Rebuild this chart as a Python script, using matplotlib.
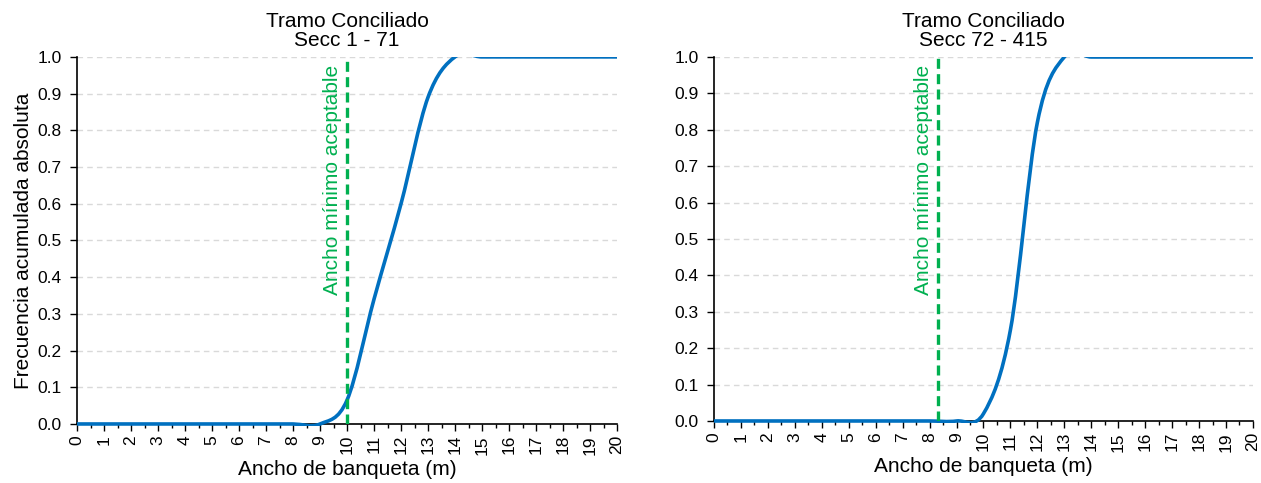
import matplotlib
matplotlib.use("Agg")
import matplotlib.pyplot as plt
from matplotlib.ticker import MultipleLocator
from matplotlib.path import Path
from matplotlib.patches import PathPatch, Rectangle

plt.rcParams['font.family'] = ['Liberation Sans', 'DejaVu Sans']

# Shared x values (Ancho de banqueta, m)
x_vals = list(range(21))

# Left panel: Secc 1 - 71
y_left = [0, 0, 0, 0, 0, 0, 0, 0, 0, 0, 0.065, 0.34, 0.60, 0.89, 1.0,
          1.0, 1.0, 1.0, 1.0, 1.0, 1.0]

# Right panel: Secc 72 - 415
y_right = [0, 0, 0, 0, 0, 0, 0, 0, 0, 0, 0.02, 0.25, 0.82, 1.0, 1.0,
           1.0, 1.0, 1.0, 1.0, 1.0, 1.0]

min_left = 10.0
min_right = 8.3

titles = ["Tramo Conciliado\nSecc 1 - 71", "Tramo Conciliado\nSecc 72 - 415"]
xlabel = "Ancho de banqueta (m)"
ylabel = "Frecuencia acumulada absoluta"
annot = "Ancho mínimo aceptable"
xtick_labels = [str(v) for v in range(21)]
ytick_vals = [i / 10 for i in range(11)]
ytick_labels = [f"{v:.1f}" for v in ytick_vals]


def smooth_path(xs, ys):
    """Excel-style smoothed line: Catmull-Rom through the points as cubic Beziers."""
    n = len(xs)
    verts = [(xs[0], ys[0])]
    codes = [Path.MOVETO]
    for i in range(n - 1):
        x0, y0 = xs[max(i - 1, 0)], ys[max(i - 1, 0)]
        x1, y1 = xs[i], ys[i]
        x2, y2 = xs[i + 1], ys[i + 1]
        x3, y3 = xs[min(i + 2, n - 1)], ys[min(i + 2, n - 1)]
        c1 = (x1 + (x2 - x0) / 6.0, y1 + (y2 - y0) / 6.0)
        c2 = (x2 - (x3 - x1) / 6.0, y2 - (y3 - y1) / 6.0)
        verts += [c1, c2, (x2, y2)]
        codes += [Path.CURVE4] * 3
    return Path(verts, codes)


fig = plt.figure(figsize=(12.61, 4.83), dpi=100)
ax1 = fig.add_axes([0.0611, 0.1222, 0.4282, 0.760])
ax2 = fig.add_axes([0.5662, 0.1284, 0.4274, 0.7536])

blue = '#0070C0'
green = '#00B050'

for ax, ys, xm, title in [(ax1, y_left, min_left, titles[0]),
                          (ax2, y_right, min_right, titles[1])]:
    patch = PathPatch(smooth_path(x_vals, ys), facecolor='none', edgecolor=blue,
                      lw=2.6, zorder=3, capstyle='butt', joinstyle='round')
    ax.add_patch(patch)
    clip = Rectangle((0, -0.006), 1, 1.006, transform=ax.transAxes)
    patch.set_clip_path(clip)
    ax.axvline(xm, color=green, lw=2.4, ls=(0, (3, 1.6)), zorder=4)
    ax.text(xm - 0.17, 0.978, annot, rotation=90, color=green, fontsize=15,
            ha='right', va='top')
    ax.set_xlim(0, 20)
    ax.set_ylim(0, 1)
    ax.set_xticks(x_vals)
    ax.set_xticklabels(xtick_labels, rotation=90)
    ax.xaxis.set_minor_locator(MultipleLocator(0.5))
    ax.set_yticks(ytick_vals)
    ax.set_yticklabels(ytick_labels)
    ax.tick_params(axis='x', which='major', length=5, width=1, labelsize=12.5,
                   direction='out', pad=3)
    ax.tick_params(axis='x', which='minor', length=3, width=1, direction='out')
    ax.tick_params(axis='y', which='major', length=5, width=1, labelsize=12.5,
                   direction='out', pad=6)
    ax.grid(axis='y', color='#D9D9D9', ls=(0, (4, 3)), lw=1)
    ax.set_axisbelow(True)
    for s in ['top', 'right']:
        ax.spines[s].set_visible(False)
    for s in ['left', 'bottom']:
        ax.spines[s].set_linewidth(1.2)
    ax.set_title(title, fontsize=15, pad=8, linespacing=1.0)
    ax.set_xlabel(xlabel, fontsize=15, labelpad=4)

ax1.set_ylabel(ylabel, fontsize=15, labelpad=3)

fig.savefig("out.png", dpi=100)
